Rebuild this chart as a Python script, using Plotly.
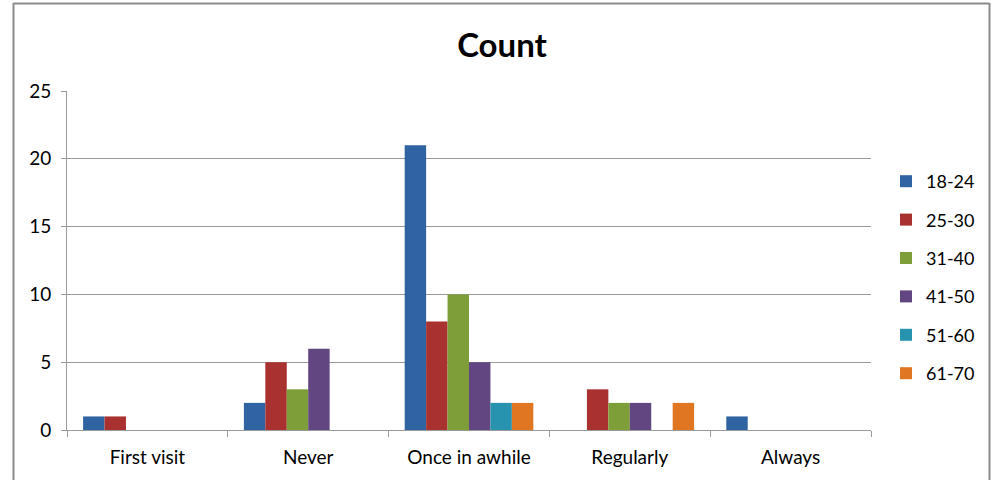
import plotly.graph_objects as go

# Visit frequency by age group
categories = ["First visit", "Never", "Once in awhile", "Regularly", "Always"]
age_groups = ["18-24", "25-30", "31-40", "41-50", "51-60", "61-70"]
counts_18_24 = [1, 2, 21, None, 1]
counts_25_30 = [1, 5, 8, 3, None]
counts_31_40 = [None, 3, 10, 2, None]
counts_41_50 = [None, 6, 5, 2, None]
counts_51_60 = [None, None, 2, None, None]
counts_61_70 = [None, None, 2, 2, None]
y_ticks = [0, 5, 10, 15, 20, 25]

series = [counts_18_24, counts_25_30, counts_31_40, counts_41_50, counts_51_60, counts_61_70]
colors = ["#3063A1", "#A9312F", "#7D9E38", "#614681", "#2893AF", "#E07622"]

FONT = "Lato, 'Open Sans', sans-serif"
AXIS_GREY = "#9a9a9a"

fig = go.Figure()
for name, vals, c in zip(age_groups, series, colors):
    fig.add_trace(go.Bar(
        x=categories, y=vals, name=name, legendgroup=name,
        marker=dict(color=c, line=dict(width=0)),
    ))

# plot-area geometry (pixels)
W, H = 993, 480
L, R, T, B = 67, 122, 91, 50
pw, ph = W - L - R, H - T - B

def px_x(p):
    return (p - L) / pw

def px_y(p):
    return (H - B - p) / ph

fig.update_layout(
    width=W, height=H,
    margin=dict(l=L, r=R, t=T, b=B),
    paper_bgcolor="white", plot_bgcolor="white",
    barmode="group", bargap=0.2, bargroupgap=0,
    font=dict(family=FONT, size=16, color="#000000"),
    title=dict(text="<b>Count</b>", x=px_x(502), xref="paper", xanchor="center",
               y=1 - 45 / H, yanchor="middle",
               font=dict(family=FONT, size=33, color="#000000")),
    xaxis=dict(
        type="category", showline=True, linecolor=AXIS_GREY, linewidth=1,
        ticks="outside", tickson="boundaries", ticklen=6, tickcolor=AXIS_GREY,
        showgrid=False, tickfont=dict(size=19), ticklabelstandoff=10,
    ),
    yaxis=dict(
        range=[0, 25], tickvals=y_ticks, showline=True, linecolor=AXIS_GREY, linewidth=1,
        ticks="outside", ticklen=5, tickcolor=AXIS_GREY,
        showgrid=True, gridcolor=AXIS_GREY, gridwidth=1, zeroline=False,
        tickfont=dict(size=19), ticklabelstandoff=6,
    ),
    legend=dict(
        x=px_x(886), xanchor="left", y=px_y(163), yanchor="top",
        font=dict(size=18), tracegroupgap=12, itemwidth=30,
        bgcolor="rgba(0,0,0,0)",
    ),
    showlegend=True,
    shapes=[
        # chart frame
        dict(type="line", xref="paper", yref="paper",
             x0=px_x(13.5), x1=px_x(13.5), y0=px_y(3), y1=px_y(480),
             line=dict(color="#8c8c8c", width=2)),
        dict(type="line", xref="paper", yref="paper",
             x0=px_x(989.5), x1=px_x(989.5), y0=px_y(3), y1=px_y(480),
             line=dict(color="#8c8c8c", width=2)),
        dict(type="line", xref="paper", yref="paper",
             x0=px_x(13.5), x1=px_x(989.5), y0=px_y(3.5), y1=px_y(3.5),
             line=dict(color="#8c8c8c", width=2)),
    ],
)

fig.write_html("out.html")
